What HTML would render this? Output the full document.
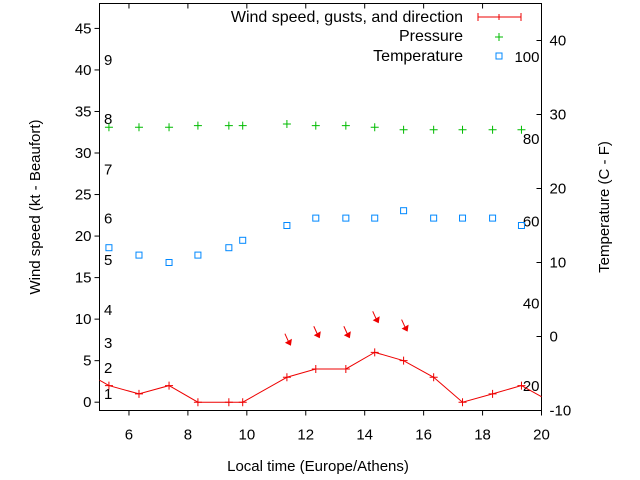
<!DOCTYPE html>
<html><head><meta charset="utf-8"><style>
body{margin:0;background:#fff}
svg{display:block;font-family:"Liberation Sans",sans-serif}
</style></head><body>
<svg id="chart" width="640" height="480" viewBox="0 0 640 480" xmlns="http://www.w3.org/2000/svg"></svg>
<script>
const times=[4.34,5.32,6.34,7.36,8.34,9.39,9.86,11.36,12.34,13.36,14.34,15.32,16.34,17.32,18.34,19.32,20.34];
const wind=[4,2,1,2,0,0,0,3,4,4,6,5,3,0,1,2,0];
const pTimes=[5.32,6.34,7.36,8.34,9.39,9.86,11.36,12.34,13.36,14.34,15.32,16.34,17.32,18.34,19.32];
const pressure=[33.1,33.1,33.1,33.3,33.3,33.3,33.5,33.3,33.3,33.1,32.8,32.8,32.8,32.8,32.8];
const temperature=[12,11,10,11,12,13,15,16,16,16,17,16,16,16,15];
const arrowTimes=[11.36,12.34,13.36,14.34,15.32];
const arrowVals=[6.8,7.7,7.7,9.5,8.5];
const xTicks=[6,8,10,12,14,16,18,20];
const yTicks=[0,5,10,15,20,25,30,35,40,45];
const y2Ticks=[-10,0,10,20,30,40];
const beaufort=[1,2,3,4,5,6,7,8,9];
const beaufortKt=[1.0,4.1,7.1,11.1,17.1,22.1,28.0,34.1,41.2];
const fahr=[20,40,60,80,100];

const L=99.5,R=541.5,T=3.5,B=410.5;
const X=t=>L+(t-5)/15*(R-L);
const Y=v=>B-(v+1)/49*(B-T);
const Y2=c=>B-(c+10)/55*(B-T);
const NS="http://www.w3.org/2000/svg";
const svg=document.getElementById('chart');
function mk(tag,attrs,parent){const e=document.createElementNS(NS,tag);for(const k in attrs)e.setAttribute(k,attrs[k]);(parent||svg).appendChild(e);return e;}
function txt(s,x,y,anchor,parent,fs){const e=mk('text',{x:x,y:y,'font-size':fs||15,'text-anchor':anchor||'start',fill:'#000'},parent);e.textContent=s;return e;}

const defs=mk('defs',{});const cp=mk('clipPath',{id:'pc'},defs);mk('rect',{x:L,y:T,width:R-L,height:B-T},cp);

const frame=mk('rect',{x:L,y:T,width:R-L,height:B-T,fill:'none',stroke:'#000','stroke-width':1});



xTicks.forEach(t=>{
  const g=mk('g',{});
  
  
  mk('line',{x1:X(t),x2:X(t),y1:B,y2:B+5,stroke:'#000'},g);
  mk('line',{x1:X(t),x2:X(t),y1:T,y2:T+5,stroke:'#000'},g);
  txt(String(t),X(t),B+29,'middle',g);
});
yTicks.forEach(v=>{
  const g=mk('g',{});
  
  
  mk('line',{x1:L-5,x2:L,y1:Y(v),y2:Y(v),stroke:'#000'},g);
  txt(String(v),L-8,Y(v)+5,'end',g);
});
y2Ticks.forEach(v=>{
  const g=mk('g',{});
  
  
  mk('line',{x1:R-5,x2:R,y1:Y2(v),y2:Y2(v),stroke:'#000'},g);
  txt(String(v),R+8,Y2(v)+5,'start',g);
});
beaufort.forEach((b,i)=>{
  const e=txt(String(b),104,Y(beaufortKt[i])+5,'start');
  
  
});
fahr.forEach(f=>{
  const c=(f-32)*5/9;
  const e=txt(String(f),R-2,Y2(c)+5,'end');
  
  
});

const dg=mk('g',{'clip-path':'url(#pc)'});



const wl=mk('polyline',{points:times.map((t,i)=>X(t)+','+Y(wind[i])).join(' '),fill:'none',stroke:'#e00','stroke-width':1},dg);


times.forEach((t,i)=>{
  const p=mk('path',{d:`M${X(t)-4},${Y(wind[i])}h8M${X(t)},${Y(wind[i])-4}v8`,stroke:'#e00','stroke-width':1},dg);
  
  
});
pTimes.forEach((t,i)=>{
  const p=mk('path',{d:`M${X(t)-4},${Y(pressure[i])}h8M${X(t)},${Y(pressure[i])-4}v8`,stroke:'#0b0','stroke-width':1},dg);
  
  
});
pTimes.forEach((t,i)=>{
  const p=mk('rect',{x:X(t)-3,y:Y2(temperature[i])-3,width:6,height:6,fill:'none',stroke:'#08f','stroke-width':1},dg);
  
  
});
arrowTimes.forEach((t,i)=>{
  const x=X(t)+3,y=Y(arrowVals[i])-1;
  const g=mk('g',{},dg);
  
  
  mk('line',{x1:x-5,x2:x,y1:y-11,y2:y,stroke:'#e00','stroke-width':1},g);
  mk('polygon',{points:`${x+1},${y+1} ${x-5},${y-2} ${x+2},${y-6}`,fill:'#e00'},g);
});

const lg=mk('g',{});


txt('Wind speed, gusts, and direction',463,22,'end',lg,16);
mk('path',{d:'M478,17h43M478,13v8M521,13v8M499,14v6',stroke:'#e00','stroke-width':1},lg);
txt('Pressure',463,41,'end',lg,16);
mk('path',{d:'M495,37h8M499,33v8',stroke:'#0b0'},lg);
txt('Temperature',463,61,'end',lg,16);
mk('rect',{x:496,y:53,width:6,height:6,fill:'none',stroke:'#08f'},lg);

const xt=txt('Local time (Europe/Athens)',318,471,'middle');


const yt=txt('Wind speed (kt - Beaufort)',0,0,'middle');
yt.setAttribute('transform','translate(40,207) rotate(-90)');


const y2t=txt('Temperature (C - F)',0,0,'middle');
y2t.setAttribute('transform','translate(609,207) rotate(-90)');


</script>
</body></html>
